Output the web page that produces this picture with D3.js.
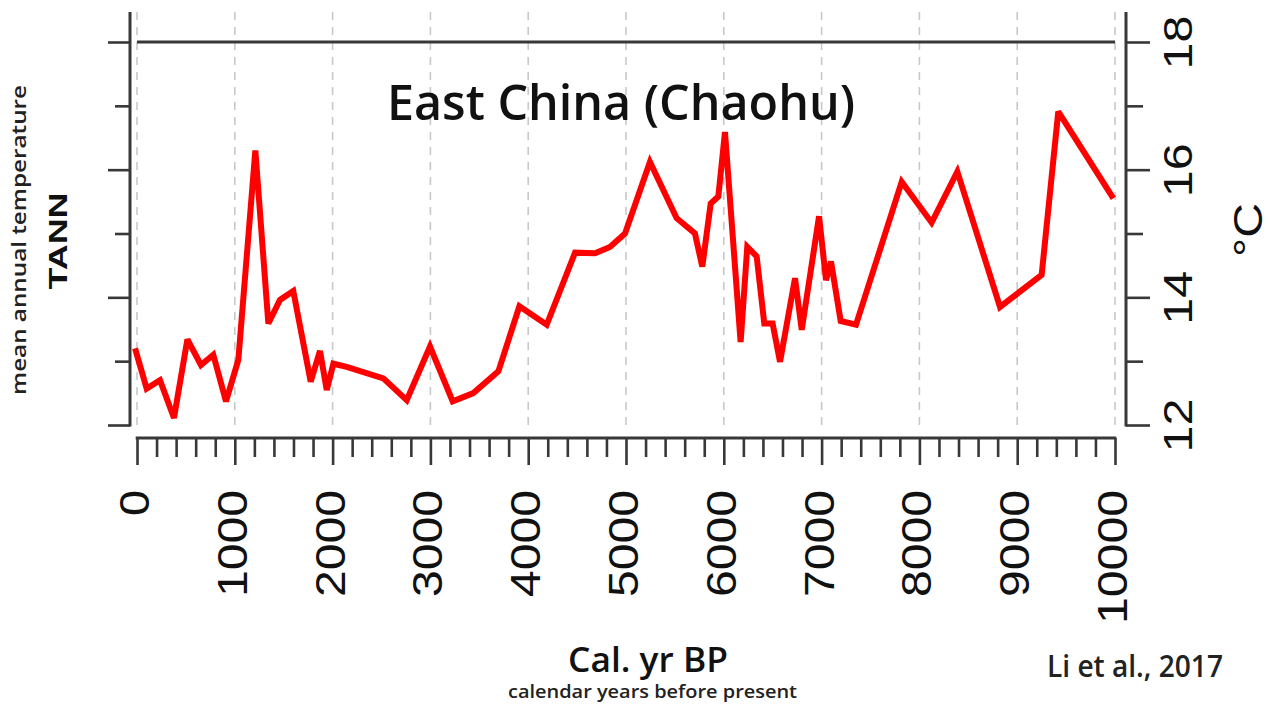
<!DOCTYPE html>
<html>
<head>
<meta charset="utf-8">
<script src="https://cdn.jsdelivr.net/npm/d3@7"></script>
<style>
  html, body { margin: 0; padding: 0; background: #fff; }
  svg { display: block; }
</style>
</head>
<body>
<div id="root"></div>
<script>
const years = [
  -20, 99, 235, 378, 515, 654, 780, 910, 1036, 1210, 1343, 1462, 1598, 1776,
  1871, 1940, 2008, 2144, 2519, 2758, 2996, 3228, 3439, 3695, 3910, 4189,
  4479, 4683, 4836, 4990, 5245, 5518, 5705, 5780, 5866, 5944, 6012, 6172,
  6240, 6336, 6414, 6499, 6575, 6728, 6797, 6974, 7045, 7096, 7195, 7352,
  7819, 8125, 8388, 8824, 9250, 9420, 9983,
];
const tann = [
  13.2, 12.57, 12.7, 12.11, 13.34, 12.94, 13.1, 12.37, 13.02, 16.3, 13.59,
  13.96, 14.1, 12.68, 13.16, 12.55, 12.96, 12.91, 12.73, 12.39, 13.23, 12.37,
  12.5, 12.84, 13.86, 13.57, 14.7, 14.69, 14.79, 15.0, 16.12, 15.24, 15.0,
  14.48, 15.47, 15.58, 16.59, 13.3, 14.79, 14.64, 13.59, 13.59, 12.99, 14.3,
  13.49, 15.27, 14.27, 14.56, 13.63, 13.57, 15.81, 15.17, 15.97, 13.85,
  14.35, 16.91, 15.55,
];
const yearTicks = [0, 1000, 2000, 3000, 4000, 5000, 6000, 7000, 8000, 9000, 10000];
const tempMajor = [12, 14, 16, 18];
const tempMinor = [13, 15, 17];

const W = 1271, H = 708;
const axisColor = "#383838";
const sans = "'Open Sans', 'Noto Sans', sans-serif";
const arial = "'Liberation Sans', Arial, sans-serif";

const x = d3.scaleLinear().domain([0, 10000]).range([137, 1115]);
const y = d3.scaleLinear().domain([12, 18]).range([425, 42]);
const yTop = 18.47; // axis lines run a little past 18

const svg = d3.select("#root").append("svg")
  .attr("width", W).attr("height", H)
  .attr("viewBox", `0 0 ${W} ${H}`);

// dashed vertical grid
svg.append("g").selectAll("line").data(yearTicks).join("line")
  .attr("x1", d => x(d)).attr("x2", d => x(d))
  .attr("y1", y(yTop)).attr("y2", y(12))
  .attr("stroke", "#c8c8c8").attr("stroke-width", 1.6)
  .attr("stroke-dasharray", "8,7");

// 18 °C reference line
svg.append("line")
  .attr("x1", x(0)).attr("x2", x(10000))
  .attr("y1", y(18)).attr("y2", y(18))
  .attr("stroke", axisColor).attr("stroke-width", 3);

function styleAxis(g) {
  g.selectAll(".domain").remove();
  g.selectAll("line").attr("stroke", axisColor).attr("stroke-width", 2.6);
}

// left axis (no labels)
const leftX = 130;
svg.append("line")
  .attr("x1", leftX).attr("x2", leftX)
  .attr("y1", y(yTop)).attr("y2", y(12) + 1.5)
  .attr("stroke", axisColor).attr("stroke-width", 3);
svg.append("g").attr("transform", `translate(${leftX},0)`)
  .call(d3.axisLeft(y).tickValues(tempMajor).tickSize(22).tickFormat(""))
  .call(styleAxis);
svg.append("g").attr("transform", `translate(${leftX},0)`)
  .call(d3.axisLeft(y).tickValues(tempMinor).tickSize(15).tickFormat(""))
  .call(styleAxis);

// right axis
const rightX = 1126;
svg.append("line")
  .attr("x1", rightX).attr("x2", rightX)
  .attr("y1", y(yTop)).attr("y2", y(12) + 1.5)
  .attr("stroke", axisColor).attr("stroke-width", 3);
const rMajor = svg.append("g").attr("transform", `translate(${rightX},0)`)
  .call(d3.axisRight(y).tickValues(tempMajor).tickSize(24).tickPadding(0)
    .tickFormat(d3.format("d")))
  .call(styleAxis);
rMajor.selectAll("text")
  .attr("x", 0).attr("dy", null)
  .attr("transform", "translate(52,0) rotate(-90)")
  .attr("text-anchor", "middle")
  .attr("dominant-baseline", "central")
  .attr("font-family", arial).attr("font-size", 41)
  .attr("fill", "#111")
  .attr("textLength", 54).attr("lengthAdjust", "spacingAndGlyphs");
svg.append("g").attr("transform", `translate(${rightX},0)`)
  .call(d3.axisRight(y).tickValues(tempMinor).tickSize(17).tickFormat(""))
  .call(styleAxis);

// bottom axis
const bottomY = 438;
const minorYears = d3.range(0, 10001, 200).filter(d => d % 1000 !== 0);
svg.append("line")
  .attr("x1", x(0) - 1.3).attr("x2", x(10000) + 1.3)
  .attr("y1", bottomY).attr("y2", bottomY)
  .attr("stroke", axisColor).attr("stroke-width", 3);
svg.append("g").attr("transform", `translate(0,${bottomY})`)
  .call(d3.axisBottom(x).tickValues(minorYears).tickSize(19).tickFormat(""))
  .call(styleAxis);
const bMajor = svg.append("g").attr("transform", `translate(0,${bottomY})`)
  .call(d3.axisBottom(x).tickValues(yearTicks).tickSize(27).tickFormat(d3.format("d")))
  .call(styleAxis);
bMajor.selectAll("text")
  .attr("y", 0).attr("dy", null)
  .attr("transform", "translate(-3,52) rotate(-90)")
  .attr("text-anchor", "end")
  .attr("dominant-baseline", "central")
  .attr("font-family", arial).attr("font-size", 42)
  .attr("fill", "#111")
  .attr("textLength", d => String(d).length * 27 - 1)
  .attr("lengthAdjust", "spacingAndGlyphs");

// TANN curve
const line = d3.line().x((d, i) => x(years[i])).y(d => y(d)).curve(d3.curveLinear);
svg.append("path")
  .datum(tann)
  .attr("d", line)
  .attr("fill", "none")
  .attr("stroke", "#ff0000")
  .attr("stroke-width", 6)
  .attr("stroke-linejoin", "miter")
  .attr("stroke-miterlimit", 3);

// texts
svg.append("text").text("East China (Chaohu)")
  .attr("x", 387).attr("y", 120)
  .attr("font-family", sans).attr("font-size", 48).attr("font-weight", 600)
  .attr("fill", "#111")
  .attr("textLength", 468).attr("lengthAdjust", "spacingAndGlyphs");

svg.append("text").text("°C")
  .attr("transform", "translate(1262,230) rotate(-90)")
  .attr("text-anchor", "middle")
  .attr("font-family", arial).attr("font-size", 40)
  .attr("fill", "#111")
  .attr("textLength", 54).attr("lengthAdjust", "spacingAndGlyphs");

svg.append("text").text("mean annual temperature")
  .attr("transform", "translate(26,240) rotate(-90)")
  .attr("text-anchor", "middle")
  .attr("font-family", sans).attr("font-size", 19).attr("font-weight", 600)
  .attr("fill", "#222")
  .attr("textLength", 310).attr("lengthAdjust", "spacingAndGlyphs");

svg.append("text").text("TANN")
  .attr("transform", "translate(67,241) rotate(-90)")
  .attr("text-anchor", "middle")
  .attr("font-family", arial).attr("font-size", 25).attr("font-weight", "bold")
  .attr("fill", "#111")
  .attr("textLength", 97).attr("lengthAdjust", "spacingAndGlyphs");

svg.append("text").text("Cal. yr BP")
  .attr("x", 568).attr("y", 672)
  .attr("font-family", sans).attr("font-size", 35).attr("font-weight", 600)
  .attr("fill", "#111")
  .attr("textLength", 160).attr("lengthAdjust", "spacingAndGlyphs");

svg.append("text").text("calendar years before present")
  .attr("x", 508).attr("y", 698)
  .attr("font-family", sans).attr("font-size", 18).attr("font-weight", 600)
  .attr("fill", "#222")
  .attr("textLength", 289).attr("lengthAdjust", "spacingAndGlyphs");

svg.append("text").text("Li et al., 2017")
  .attr("x", 1047).attr("y", 677)
  .attr("font-family", sans).attr("font-size", 30).attr("font-weight", 600)
  .attr("fill", "#222")
  .attr("textLength", 176).attr("lengthAdjust", "spacingAndGlyphs");
</script>
</body>
</html>
